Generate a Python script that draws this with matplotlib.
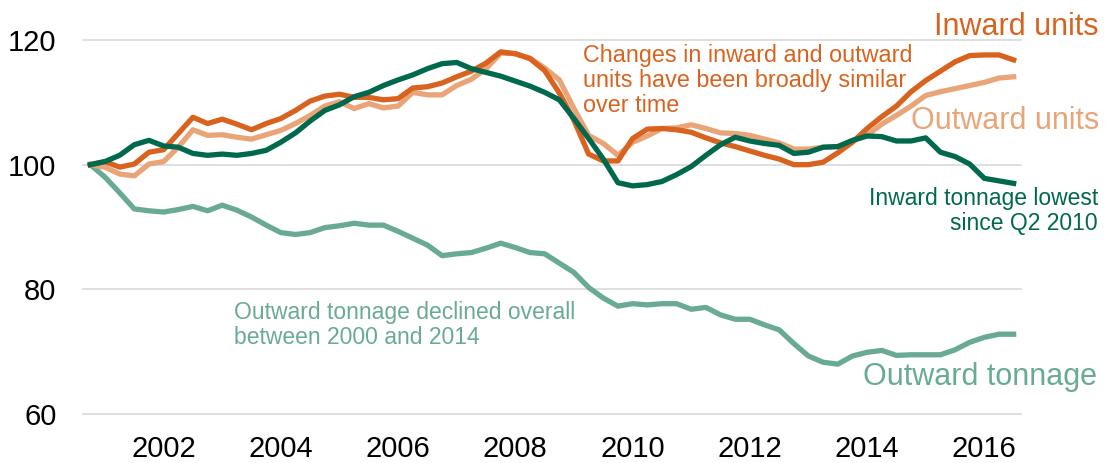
import numpy as np
import matplotlib
matplotlib.use("Agg")
import matplotlib.pyplot as plt

plt.rcParams['font.family'] = ['Liberation Sans', 'DejaVu Sans']

# quarterly index, Q4 2000 = 100, up to Q3 2016
first_quarter = 2000.75
year_ticks = [2002, 2004, 2006, 2008, 2010, 2012, 2014, 2016]

inward_units = [100.0, 100.5, 99.6, 100.1, 102.0, 102.4, 105.0, 107.6, 106.6, 107.3,
                106.5, 105.6, 106.6, 107.4, 108.7, 110.2, 111.0, 111.3, 110.8, 110.8,
                110.4, 110.6, 112.3, 112.5, 113.1, 114.1, 115.0, 116.3, 118.1, 117.8,
                117.0, 115.1, 111.5, 107.1, 101.7, 100.6, 100.6, 104.2, 105.7, 105.8,
                105.6, 105.2, 104.3, 103.5, 102.9, 102.2, 101.5, 100.9, 100.0, 100.0,
                100.4, 101.9, 103.6, 105.8, 107.7, 109.4, 111.7, 113.5, 115.0, 116.5,
                117.5, 117.6, 117.6, 116.8]

outward_units = [100.0, 99.6, 98.5, 98.2, 100.1, 100.5, 102.8, 105.6, 104.7, 104.8,
                 104.4, 104.1, 104.8, 105.5, 106.6, 107.9, 109.4, 110.1, 109.0, 109.8,
                 109.1, 109.4, 111.6, 111.2, 111.2, 112.7, 113.7, 115.4, 117.9, 117.8,
                 117.1, 115.5, 113.6, 109.0, 104.7, 103.4, 101.5, 103.6, 104.6, 105.8,
                 105.9, 106.4, 105.8, 105.1, 105.0, 104.7, 104.1, 103.5, 102.5, 102.5,
                 102.8, 102.9, 103.8, 104.7, 106.5, 107.9, 109.4, 111.1, 111.7, 112.2,
                 112.7, 113.2, 113.9, 114.1]

inward_tonnage = [100.0, 100.5, 101.5, 103.2, 103.9, 103.0, 102.8, 101.8, 101.5, 101.7,
                  101.5, 101.8, 102.3, 103.6, 105.1, 107.0, 108.7, 109.6, 110.9, 111.6,
                  112.7, 113.6, 114.4, 115.4, 116.2, 116.4, 115.4, 114.8, 114.2, 113.4,
                  112.6, 111.6, 110.4, 107.4, 104.2, 100.9, 97.1, 96.6, 96.8, 97.3,
                  98.4, 99.7, 101.5, 103.2, 104.4, 103.8, 103.4, 103.1, 101.8, 102.0,
                  102.8, 102.9, 103.9, 104.6, 104.5, 103.8, 103.8, 104.3, 102.0, 101.3,
                  100.1, 97.8, 97.4, 97.0]

outward_tonnage = [100.0, 98.0, 95.5, 92.9, 92.6, 92.4, 92.8, 93.3, 92.6, 93.5,
                   92.7, 91.6, 90.3, 89.1, 88.8, 89.1, 89.9, 90.2, 90.6, 90.3,
                   90.3, 89.3, 88.2, 87.1, 85.4, 85.7, 85.9, 86.6, 87.4, 86.7,
                   85.9, 85.7, 84.2, 82.7, 80.3, 78.6, 77.3, 77.7, 77.5, 77.7,
                   77.7, 76.8, 77.1, 75.9, 75.2, 75.2, 74.3, 73.5, 71.3, 69.3,
                   68.3, 68.0, 69.3, 69.9, 70.2, 69.4, 69.5, 69.5, 69.5, 70.3,
                   71.5, 72.3, 72.8, 72.8]

c_inu = '#D9631E'
c_outu = '#E9A477'
c_int = '#00694D'
c_outt = '#69AA97'

W, H = 1117, 463
fig = plt.figure(figsize=(W / 100, H / 100), dpi=100)
ax = fig.add_axes([83 / W, 1 - 414 / H, (1021 - 83) / W, (414 - 40) / H])

x = first_quarter + 0.25 * np.arange(len(inward_units))

lw = 3.8
ax.plot(x, outward_tonnage, color=c_outt, lw=lw, solid_joinstyle='round')
ax.plot(x, outward_units, color=c_outu, lw=lw, solid_joinstyle='round')
ax.plot(x, inward_units, color=c_inu, lw=lw, solid_joinstyle='round')
ax.plot(x, inward_tonnage, color=c_int, lw=lw, solid_joinstyle='round')

ax.set_xlim(x[0] - 0.125, x[-1] + 0.125)
ax.set_ylim(60, 120)
ax.set_yticks([60, 80, 100, 120])
ax.set_xticks(year_ticks)
ax.set_xticklabels([str(y) for y in year_ticks])
ax.grid(axis='y', color='#D9D9D9', lw=1.2)
for gl in ax.get_ygridlines():
    gl.set_clip_on(False)
ax.set_axisbelow(True)
for s in ax.spines.values():
    s.set_visible(False)
ax.tick_params(axis='both', length=0, labelsize=21)
ax.tick_params(axis='y', pad=19)
ax.tick_params(axis='x', pad=15)


def put(px, py, txt, **kw):
    # py is the baseline of the last line of txt
    fig.text(px / W, 1 - py / H, txt, va='baseline', **kw)


put(1099, 35, 'Inward units', ha='right', color=c_inu, fontsize=22)
put(1099, 129, 'Outward units', ha='right', color=c_outu, fontsize=22)
put(1097, 385, 'Outward tonnage', ha='right', color=c_outt, fontsize=22)
put(1098, 230, 'Inward tonnage lowest\nsince Q2 2010', ha='right', color=c_int,
    fontsize=16.5, linespacing=1.1, multialignment='right')
put(583, 112, 'Changes in inward and outward\nunits have been broadly similar\nover time',
    ha='left', color=c_inu, fontsize=16.8, linespacing=1.1)
put(234, 344, 'Outward tonnage declined overall\nbetween 2000 and 2014',
    ha='left', color=c_outt, fontsize=16.5, linespacing=1.1)

fig.savefig('out.png', dpi=100)
